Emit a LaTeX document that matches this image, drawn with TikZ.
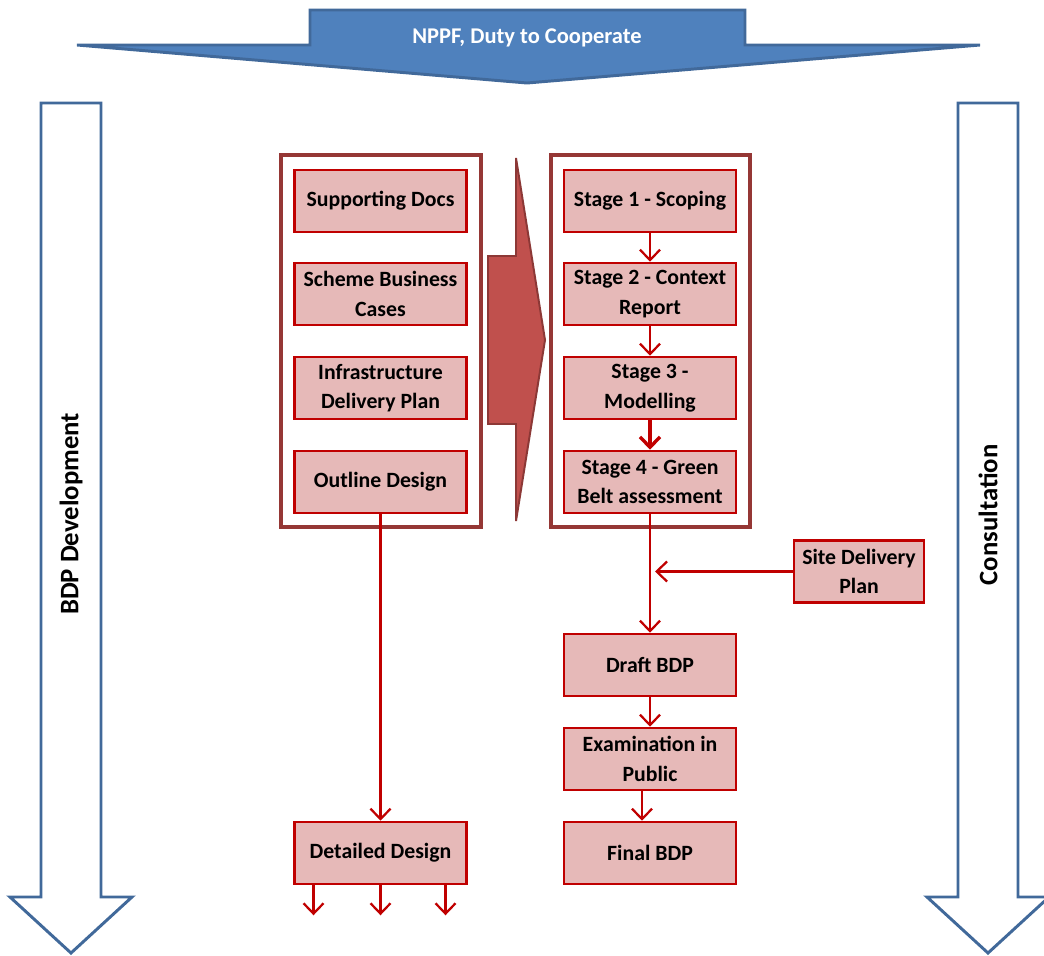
\documentclass[tikz,border=0pt]{standalone}
\usepackage{fontspec}
\setmainfont{Carlito}
\usetikzlibrary{arrows.meta, positioning, calc}

\definecolor{boxfill}{HTML}{E6B9B8}
\definecolor{boxline}{HTML}{C00000}
\definecolor{frameline}{HTML}{953735}
\definecolor{bigred}{HTML}{C0504D}
\definecolor{bigredline}{HTML}{8C3836}
\definecolor{blueline}{HTML}{41699A}
\definecolor{bluefill}{HTML}{4F81BD}

\begin{document}
\begin{tikzpicture}[x=0.025cm,y=-0.025cm,
>={Straight Barb[length=2.6mm,width=5mm]},
stagebox/.style={draw=boxline,fill=boxfill,line width=1.8pt,
  minimum width=4.3cm,minimum height=1.55cm,inner sep=1pt,align=center,
  font=\fontsize{15.5}{21}\selectfont\bfseries},
flow/.style={->,draw=boxline,line width=1.6pt},
groupframe/.style={draw=frameline,line width=2.8pt},
bluearrow/.style={draw=blueline,line width=2.1pt,line join=miter},
sidelabel/.style={rotate=90,font=\fontsize{19}{22}\selectfont\bfseries}]

  \clip (0,0) rectangle (1044,955);

  % NPPF arrow
  \draw [bluearrow,fill=bluefill] (310,10) -- (745,10) -- (745,45) -- (980,45)
    -- (527,83) -- (77,45) -- (310,45) -- cycle;
  \node (nppf) [text=white,font=\fontsize{16}{18}\selectfont\bfseries] at (527,38)
    {NPPF, Duty to Cooperate};

  % side arrows
  \draw [bluearrow,fill=white] (41,103) -- (101,103) -- (101,897) -- (132,897)
    -- (71,953) -- (10,897) -- (41,897) -- cycle;
  \draw [bluearrow,fill=white] (958,103) -- (1018,103) -- (1018,897) -- (1049,897)
    -- (988,953) -- (927,897) -- (958,897) -- cycle;
  \node (bdpdev) [sidelabel] at (71,514) {BDP Development};
  \node (consult) [sidelabel] at (988,515) {Consultation};

  % group frames
  \draw [groupframe] (281,155) rectangle (481,527);
  \draw [groupframe] (551,155) rectangle (750,527);
  \draw [draw=bigredline,fill=bigred,line width=1.4pt] (488,256) -- (516,256)
    -- (516,158) -- (545,340) -- (516,521) -- (516,424) -- (488,424) -- cycle;

  % inputs
  \node (supdocs)  [stagebox] at (380.5,201) {Supporting Docs};
  \node (business) [stagebox] at (380.5,294) {Scheme Business\\Cases};
  \node (infra)    [stagebox] at (380.5,388) {Infrastructure\\Delivery Plan};
  \node (outline)  [stagebox] at (380.5,482) {Outline Design};
  \node (detail)   [stagebox] at (380.5,853) {Detailed Design};

  % stages
  \node (stage1) [stagebox] at (650,201) {Stage 1 - Scoping};
  \node (stage2) [stagebox] at (650,294) {Stage 2 - Context\\Report};
  \node (stage3) [stagebox] at (650,388) {Stage 3 -\\Modelling};
  \node (stage4) [stagebox] at (650,482) {Stage 4 - Green\\Belt assessment};
  \node (site)   [stagebox,minimum width=3.25cm] at (859,571.5)
    {Site Delivery\\Plan};
  \node (draft)  [stagebox] at (650,665) {Draft BDP};
  \node (exam)   [stagebox] at (650,759) {Examination in\\Public};
  \node (final)  [stagebox] at (650,853) {Final BDP};

  \coordinate (join) at ($(stage4.south |- site.west)+(5,0)$);
  \coordinate (out1) at ($(detail.south)+(-67,30)$);
  \coordinate (out2) at ($(detail.south)+(0,30)$);
  \coordinate (out3) at ($(detail.south)+(65,30)$);

  % connectors
  \draw [flow] (stage1) -- (stage2);
  \draw [flow] (stage2) -- (stage3);
  \draw [flow,line width=2.4pt] (stage3) -- (stage4);
  \draw [flow] (stage4) -- (draft);
  \draw [flow] (site.west) -- (join);
  \draw [flow] (draft) -- (exam);
  \draw [flow] ([xshift=-0.2cm]exam.south) -- ([xshift=-0.2cm]final.north);
  \draw [flow] (outline) -- (detail);
  \draw [flow] (detail.south -| out1) -- (out1);
  \draw [flow] (detail.south) -- (out2);
  \draw [flow] (detail.south -| out3) -- (out3);
\end{tikzpicture}
\end{document}
